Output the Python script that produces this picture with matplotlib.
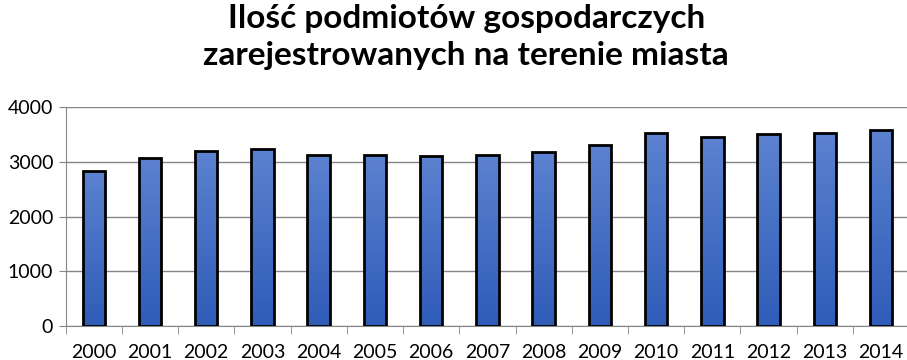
import numpy as np
import matplotlib.pyplot as plt
from matplotlib.colors import LinearSegmentedColormap

years = ['2000', '2001', '2002', '2003', '2004', '2005', '2006', '2007',
         '2008', '2009', '2010', '2011', '2012', '2013', '2014']
counts = [2840, 3077, 3199, 3242, 3126, 3126, 3108, 3126,
          3181, 3309, 3528, 3455, 3510, 3528, 3589]

title = 'Ilość podmiotów gospodarczych\nzarejestrowanych na terenie miasta'

plt.rcParams['font.family'] = ['Lato', 'DejaVu Sans']

fig = plt.figure(figsize=(9.07, 3.6), dpi=100)
ax = fig.add_axes([0.0724, 0.0944, 0.93, 0.6076])

x = np.arange(len(years))
bars = ax.bar(x, counts, width=0.40, facecolor='none', edgecolor='black',
              linewidth=2, zorder=3)

# gradient fill inside every bar (light top, dark bottom)
cmap = LinearSegmentedColormap.from_list('bar', ['#2f5cb8', '#5c82d0'])
grad = np.linspace(0, 1, 256).reshape(-1, 1)
for b in bars:
    x0, w, h = b.get_x(), b.get_width(), b.get_height()
    im = ax.imshow(grad, extent=[x0, x0 + w, 0, h], origin='lower',
                   aspect='auto', cmap=cmap, zorder=2)
    im.set_clip_path(b)

ax.set_xlim(-0.5, len(years) - 0.5)
ax.set_ylim(0, 4000)
ax.set_yticks([0, 1000, 2000, 3000, 4000])
ax.yaxis.grid(True, color='#868686', linewidth=1)
ax.set_axisbelow(True)

ax.set_xticks(x)
ax.set_xticklabels(years)
ax.set_xticks(np.arange(-0.5, len(years)), minor=True)
ax.tick_params(axis='x', which='major', length=0, pad=13, labelsize=14)
ax.tick_params(axis='x', which='minor', length=6, color='#868686')
ax.tick_params(axis='y', length=5, color='#868686', pad=4, labelsize=14)

for s in ['top', 'right']:
    ax.spines[s].set_visible(False)
for s in ['left', 'bottom']:
    ax.spines[s].set_color('#868686')

fig.text(0.514, 0.99, title, ha='center', va='top', fontsize=24,
         fontweight='bold', linespacing=1.35)

plt.savefig('out.png', dpi=100)
